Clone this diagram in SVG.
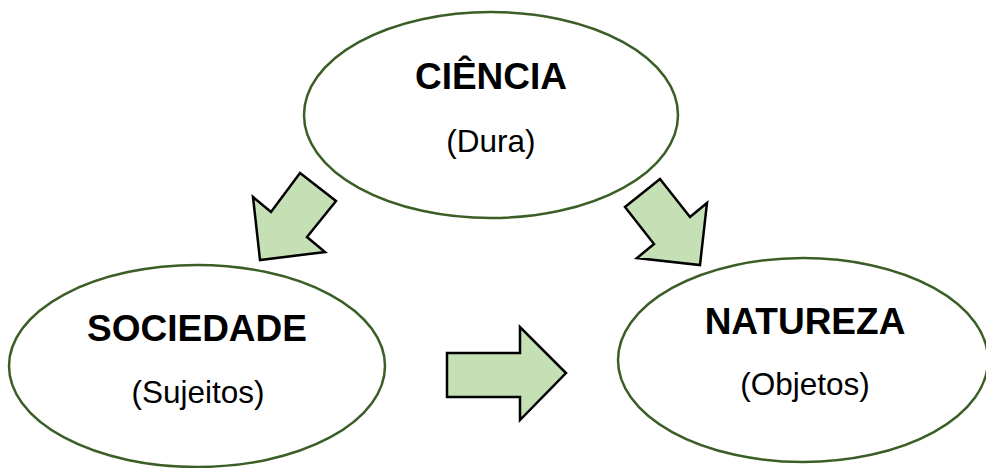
<svg xmlns="http://www.w3.org/2000/svg" width="986" height="468" viewBox="0 0 986 468">
<style>
.node{fill:#ffffff;stroke:#3b5e26;stroke-width:2.5}
.arrow{fill:#c5e0b4;stroke:#000000;stroke-width:2.5;stroke-linejoin:miter}
.t{font-family:"Liberation Sans",Arial,sans-serif;font-weight:bold;font-size:37px;fill:#000;text-anchor:middle}
.s{font-family:"Liberation Sans",Arial,sans-serif;font-size:31.5px;fill:#000;text-anchor:middle}
</style>
<rect width="986" height="468" fill="#ffffff"/>
<g id="ciencia">
<ellipse class="node" cx="491" cy="115" rx="187" ry="103"/>
<text class="t" x="491" y="89">CIÊNCIA</text>
<text class="s" x="491" y="152">(Dura)</text>
</g>
<g id="sociedade">
<ellipse class="node" cx="197" cy="366" rx="188" ry="101"/>
<text class="t" x="197" y="341">SOCIEDADE</text>
<text class="s" x="198" y="403">(Sujeitos)</text>
</g>
<g id="natureza">
<ellipse class="node" cx="803" cy="360" rx="185" ry="102"/>
<text class="t" x="805" y="334">NATUREZA</text>
<text class="s" x="805" y="395">(Objetos)</text>
</g>
<g id="connectors">
<polygon class="arrow" points="300,173 336,201 307,237 325,252 260,260 253,197 271,212"/>
<polygon class="arrow" points="660,179 690,217 707,203 700,265 637,258 654,244 625,207"/>
<polygon class="arrow" points="447,353 520,353 520,327 566,373 520,420 520,397 447,397"/>
</g>
</svg>
